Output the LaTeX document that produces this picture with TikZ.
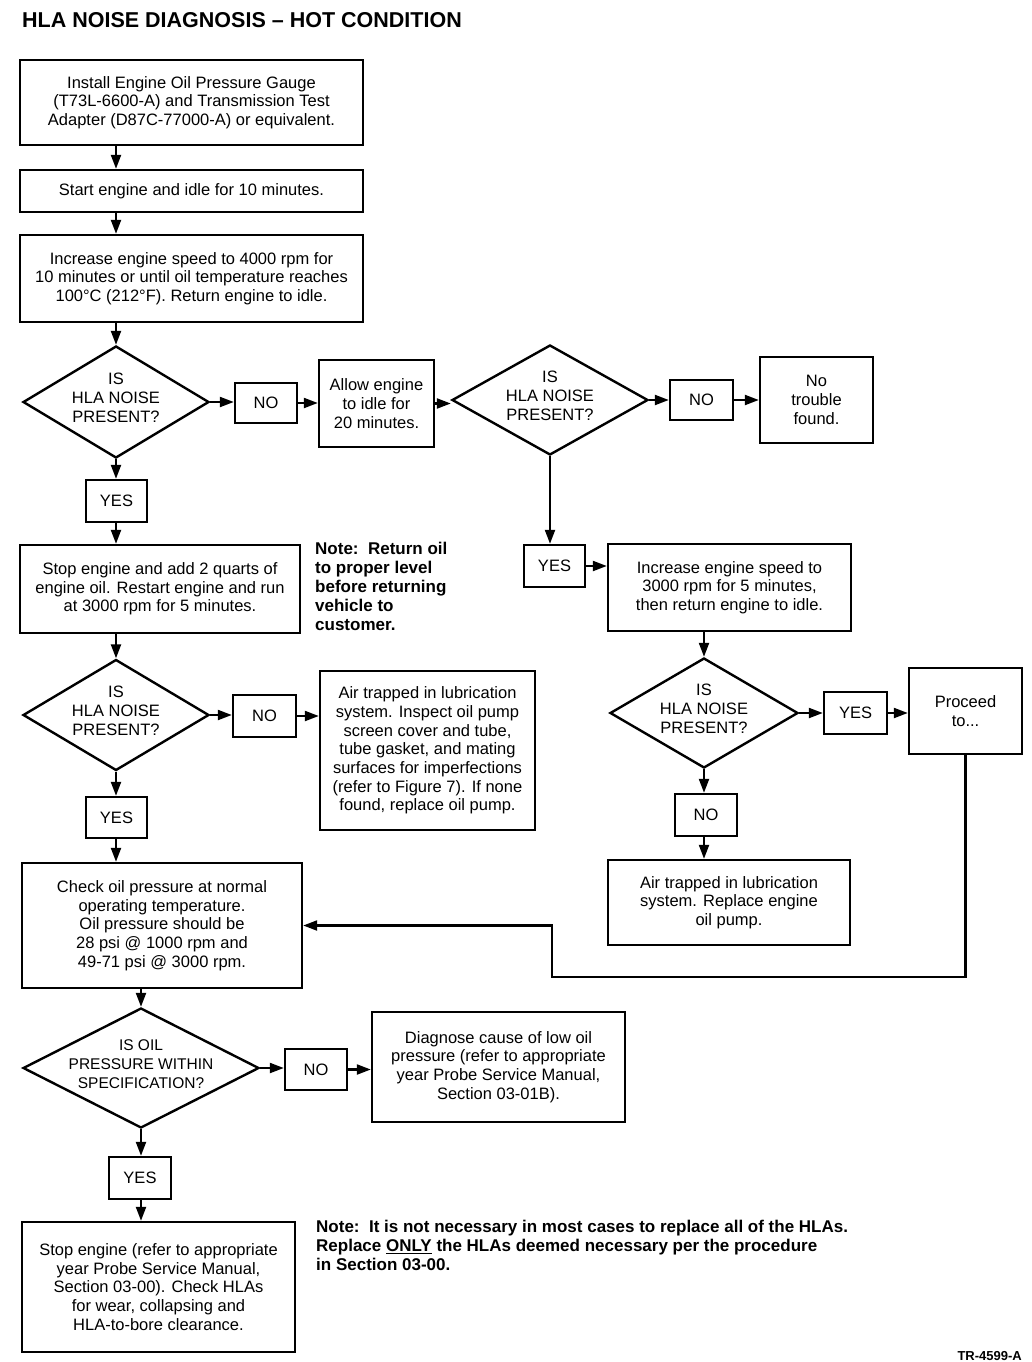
\documentclass[tikz,border=0pt]{standalone}
\usepackage{fontspec}
\setmainfont{Liberation Sans}
\usetikzlibrary{shapes.geometric,arrows.meta}
\newcommand{\boxfont}{\fontsize{16.5}{18.7}\selectfont}
\newcommand{\diafont}{\fontsize{15.5}{19}\selectfont}
\begin{document}
\begin{tikzpicture}[x=1pt,y=-1pt,
  box/.style={draw, line width=2.4pt, align=center, inner sep=0pt, font=\boxfont},
  dtext/.style={align=center, inner sep=0pt, font=\boxfont, yshift=4pt},
  dtexts/.style={align=center, inner sep=0pt, font=\diafont, yshift=4pt},
  dia/.style={draw, diamond, line width=2.4pt, inner sep=0pt},
  arr/.style={line width=2.2pt, line join=miter, -{Triangle[length=14pt,width=10pt]}},
  note/.style={font=\bfseries\fontsize{17}{19}\selectfont, align=left, anchor=north west, inner sep=0pt}]
\useasboundingbox (0,0) rectangle (1032,1362);

\node[font=\bfseries\fontsize{21.5}{24}\selectfont, anchor=west, inner sep=0pt] (title) at (22,20) {HLA NOISE DIAGNOSIS -- HOT CONDITION};

\node[box, minimum width=343, minimum height=85] (b1) at (191.5,102.5) {Install Engine Oil Pressure Gauge\\(T73L-6600-A) and Transmission Test\\Adapter (D87C-77000-A) or equivalent.};
\node[box, minimum width=343, minimum height=42] (b2) at (191.5,191) {Start engine and idle for 10 minutes.};
\node[box, minimum width=343, minimum height=87] (b3) at (191.5,278.5) {Increase engine speed to 4000 rpm for\\10 minutes or until oil temperature reaches\\100°C (212°F). Return engine to idle.};

\node[dia, minimum width=186, minimum height=112, label={[dtext]center:{IS\\HLA NOISE\\PRESENT?}}] (d1) at (116,402) {};
\node[box, minimum width=62, minimum height=40] (no1) at (266,403) {NO};
\node[box, minimum width=115, minimum height=87] (allow) at (376.5,403.5) {Allow engine\\to idle for\\20 minutes.};
\node[dia, minimum width=196, minimum height=110, label={[dtext]center:{IS\\HLA NOISE\\PRESENT?}}] (d2) at (550,400) {};
\node[box, minimum width=63, minimum height=40] (no2) at (701.5,400) {NO};
\node[box, minimum width=113, minimum height=86] (nt) at (816.5,400) {No\\trouble\\found.};

\node[box, minimum width=61, minimum height=42] (yes1) at (116.5,501) {YES};
\node[box, minimum width=280, minimum height=88] (stopadd) at (160,589) {Stop engine and add 2 quarts of\\engine oil. Restart engine and run\\at 3000 rpm for 5 minutes.};
\node[note] (note1) at (315,542) {Note:\ \ Return oil\\to proper level\\before returning\\vehicle to\\customer.};

\node[box, minimum width=61, minimum height=42] (yes2) at (554.5,566) {YES};
\node[box, minimum width=243, minimum height=87] (inc) at (729.5,587.5) {Increase engine speed to\\3000 rpm for 5 minutes,\\then return engine to idle.};

\node[dia, minimum width=186, minimum height=111, label={[dtext]center:{IS\\HLA NOISE\\PRESENT?}}] (d3) at (116,715) {};
\node[box, minimum width=63, minimum height=42] (no3) at (264.5,716) {NO};
\node[box, minimum width=215, minimum height=159] (air1) at (427.5,750.5) {Air trapped in lubrication\\system. Inspect oil pump\\screen cover and tube,\\tube gasket, and mating\\surfaces for imperfections\\(refer to Figure 7). If none\\found, replace oil pump.};
\node[box, minimum width=61, minimum height=41] (yes3) at (116.5,817.5) {YES};

\node[dia, minimum width=188, minimum height=110, label={[dtext]center:{IS\\HLA NOISE\\PRESENT?}}] (d4) at (704,713) {};
\node[box, minimum width=63, minimum height=42] (yes4) at (855.5,713) {YES};
\node[box, minimum width=113, minimum height=86] (proc) at (965.5,711) {Proceed\\to...};
\node[box, minimum width=62, minimum height=42] (no4) at (706,815) {NO};
\node[box, minimum width=242, minimum height=85] (air2) at (729,902.5) {Air trapped in lubrication\\system. Replace engine\\oil pump.};

\node[box, minimum width=280, minimum height=125] (check) at (162,925.5) {Check oil pressure at normal\\operating temperature.\\Oil pressure should be\\28 psi @ 1000 rpm and\\49-71 psi @ 3000 rpm.};

\node[dia, minimum width=236, minimum height=120, label={[dtexts]center:{IS OIL\\PRESSURE WITHIN\\SPECIFICATION?}}] (d5) at (141,1068) {};
\node[box, minimum width=62, minimum height=41] (no5) at (316,1069.5) {NO};
\node[box, minimum width=253, minimum height=110] (diag) at (498.5,1067) {Diagnose cause of low oil\\pressure (refer to appropriate\\year Probe Service Manual,\\Section 03-01B).};
\node[box, minimum width=62, minimum height=42] (yes5) at (140,1178) {YES};
\node[box, minimum width=273, minimum height=130] (final) at (158.5,1287) {Stop engine (refer to appropriate\\year Probe Service Manual,\\Section 03-00). Check HLAs\\for wear, collapsing and\\HLA-to-bore clearance.};
\node[note] (note2) at (316,1220) {Note:\ \ It is not necessary in most cases to replace all of the HLAs.\\Replace \underline{ONLY} the HLAs deemed necessary per the procedure\\in Section 03-00.};

\node[font=\bfseries\fontsize{13}{15}\selectfont, anchor=south east, inner sep=0pt] (tr) at (1022,1361) {TR-4599-A};

\coordinate (lpA) at (552,977);

% left column
\draw[arr] (b1.south -| d1.north) -- (b2.north -| d1.north);
\draw[arr] (b2.south -| d1.north) -- (b3.north -| d1.north);
\draw[arr] (b3.south -| d1.north) -- (d1.north);
\draw[arr] (d1.south) -- (d1.south |- yes1.north);
\draw[arr] (yes1.south -| d1.south) -- (stopadd.north -| d1.south);
\draw[arr] (stopadd.south -| d3.north) -- (d3.north);
\draw[arr] (d3.south) -- (d3.south |- yes3.north);
\draw[arr] (yes3.south -| d3.south) -- (check.north -| d3.south);
\draw[arr] (check.south -| d5.north) -- (d5.north);
\draw[arr] (d5.south) -- (d5.south |- yes5.north);
\draw[arr] (yes5.south -| d5.south) -- (final.north -| d5.south);

% horizontal rows
\draw[arr] (d1.east) -- (d1.east -| no1.west);
\draw[arr] (no1.east) -- (no1.east -| allow.west);
\draw[arr] (allow.east) -- (allow.east -| d2.west);
\draw[arr] (d2.east) -- (d2.east -| no2.west);
\draw[arr] (no2.east) -- (no2.east -| nt.west);
\draw[arr] (d3.east) -- (d3.east -| no3.west);
\draw[arr] (no3.east) -- (no3.east -| air1.west);
\draw[arr] (d5.east) -- (d5.east -| no5.west);
\draw[arr] (no5.east) -- (no5.east -| diag.west);

% right column
\draw[arr] (d2.south) -- (d2.south |- yes2.north);
\draw[arr] (yes2.east) -- (yes2.east -| inc.west);
\draw[arr] (inc.south -| d4.north) -- (d4.north);
\draw[arr] (d4.east) -- (d4.east -| yes4.west);
\draw[arr] (yes4.east) -- (yes4.east -| proc.west);
\draw[arr] (d4.south) -- (d4.south |- no4.north);
\draw[arr] (no4.south -| d4.south) -- (air2.north -| d4.south);

% loop back
\draw[arr] (proc.south) -- (proc.south |- lpA) -- (lpA) -- (lpA |- check.east) -- (check.east);
\end{tikzpicture}
\end{document}
